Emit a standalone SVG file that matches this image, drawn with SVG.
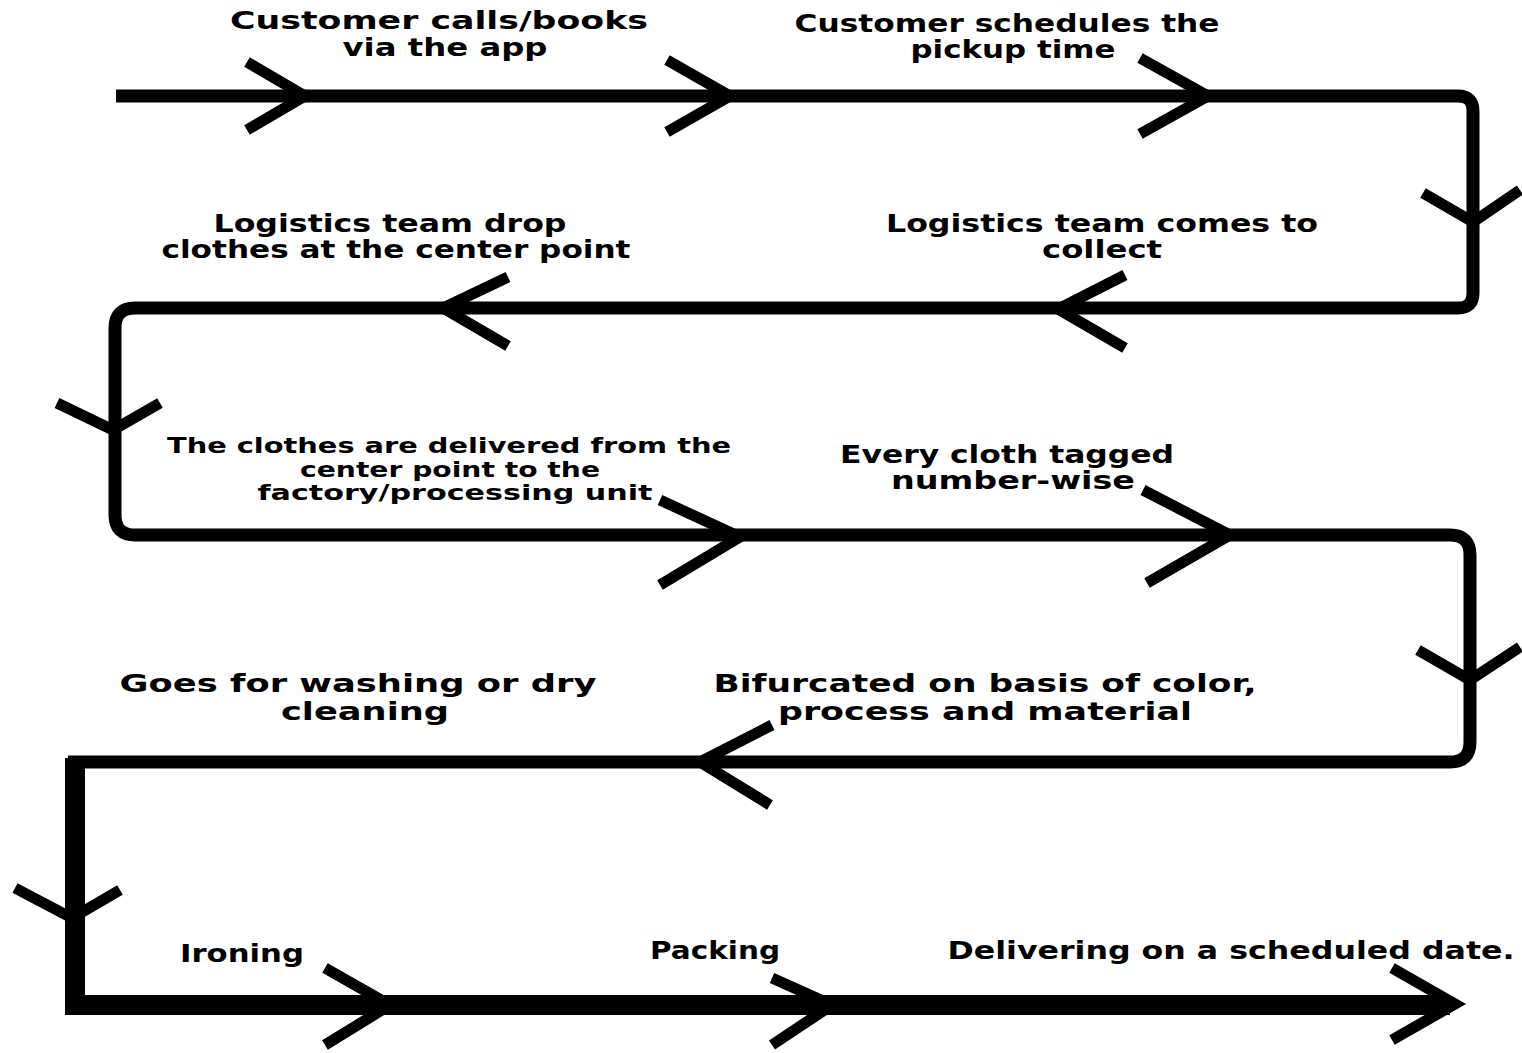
<svg xmlns="http://www.w3.org/2000/svg" width="1522" height="1053" viewBox="0 0 1522 1053">
<style>
.lbl{font-family:"DejaVu Sans","Liberation Sans",sans-serif;font-weight:bold;font-size:25px;fill:#000;text-anchor:middle}
.sm{font-size:21px}
.ln{fill:none;stroke:#000;stroke-linecap:butt}
.ch{fill:none;stroke:#000;stroke-width:11;stroke-linecap:butt;stroke-linejoin:miter}
</style>
<rect width="1522" height="1053" fill="#fff"/>
<g id="connectors">
<path class="ln" stroke-width="13" d="M116 96 H1458 Q1473 96 1473 111 V293 Q1473 308 1458 308 H135 Q115 308 115 328 V515 Q115 535 135 535 H1450 Q1470 535 1470 555 V742 Q1470 762 1450 762 H68"/>
<path class="ln" stroke-width="20" stroke-linejoin="miter" d="M75 758 V1005 H1450"/>
<path class="ch" d="M247 62 L305 96 L247 130"/>
<path class="ch" d="M667 60 L730 96 L667 132"/>
<path class="ch" d="M1140 58 L1208 96 L1140 134"/>
<path class="ch" d="M1423 193 L1473 222 L1520 190"/>
<path class="ch" d="M1125 275 L1058 309 L1125 348"/>
<path class="ch" d="M508 277 L443 308 L508 346"/>
<path class="ch" d="M57 403 L113 430 L160 403"/>
<path class="ch" d="M660 500 L740 537 L660 585"/>
<path class="ch" d="M1143 490 L1230 535 L1147 583"/>
<path class="ch" d="M1418 650 L1470 680 L1520 647"/>
<path class="ch" d="M772 725 L700 762 L770 805"/>
<path class="ch" d="M15 888 L72 918 L120 890"/>
<path class="ch" d="M325 968 L390 1005 L325 1045"/>
<path class="ch" d="M772 978 L832 1005 L772 1045"/>
<path class="ch" d="M1392 968 L1455 1004 L1392 1040"/>
</g>
<g id="n1"><text class="lbl" x="439" y="29" textLength="418" lengthAdjust="spacingAndGlyphs">Customer calls/books</text><text class="lbl" x="445" y="56" textLength="205" lengthAdjust="spacingAndGlyphs">via the app</text></g>
<g id="n2"><text class="lbl" x="1007" y="32" textLength="425" lengthAdjust="spacingAndGlyphs">Customer schedules the</text><text class="lbl" x="1013" y="58" textLength="205" lengthAdjust="spacingAndGlyphs">pickup time</text></g>
<g id="n3"><text class="lbl" x="1102" y="232" textLength="432" lengthAdjust="spacingAndGlyphs">Logistics team comes to</text><text class="lbl" x="1102" y="258" textLength="120" lengthAdjust="spacingAndGlyphs">collect</text></g>
<g id="n4"><text class="lbl" x="390" y="232" textLength="353" lengthAdjust="spacingAndGlyphs">Logistics team drop</text><text class="lbl" x="396" y="258" textLength="469" lengthAdjust="spacingAndGlyphs">clothes at the center point</text></g>
<g id="n5"><text class="lbl sm" x="449" y="453" textLength="564" lengthAdjust="spacingAndGlyphs">The clothes are delivered from the</text><text class="lbl sm" x="450" y="477" textLength="300" lengthAdjust="spacingAndGlyphs">center point to the</text><text class="lbl sm" x="455" y="500" textLength="395" lengthAdjust="spacingAndGlyphs">factory/processing unit</text></g>
<g id="n6"><text class="lbl" x="1007" y="463" textLength="334" lengthAdjust="spacingAndGlyphs">Every cloth tagged</text><text class="lbl" x="1013" y="489" textLength="244" lengthAdjust="spacingAndGlyphs">number-wise</text></g>
<g id="n7"><text class="lbl" x="985" y="692" textLength="543" lengthAdjust="spacingAndGlyphs">Bifurcated on basis of color,</text><text class="lbl" x="985" y="720" textLength="414" lengthAdjust="spacingAndGlyphs">process and material</text></g>
<g id="n8"><text class="lbl" x="358" y="692" textLength="477" lengthAdjust="spacingAndGlyphs">Goes for washing or dry</text><text class="lbl" x="365" y="720" textLength="168" lengthAdjust="spacingAndGlyphs">cleaning</text></g>
<g id="n9"><text class="lbl" x="242" y="962" textLength="124" lengthAdjust="spacingAndGlyphs">Ironing</text></g>
<g id="n10"><text class="lbl" x="715" y="959" textLength="130" lengthAdjust="spacingAndGlyphs">Packing</text></g>
<g id="n11"><text class="lbl" x="1231" y="959" textLength="567" lengthAdjust="spacingAndGlyphs">Delivering on a scheduled date.</text></g>
</svg>
